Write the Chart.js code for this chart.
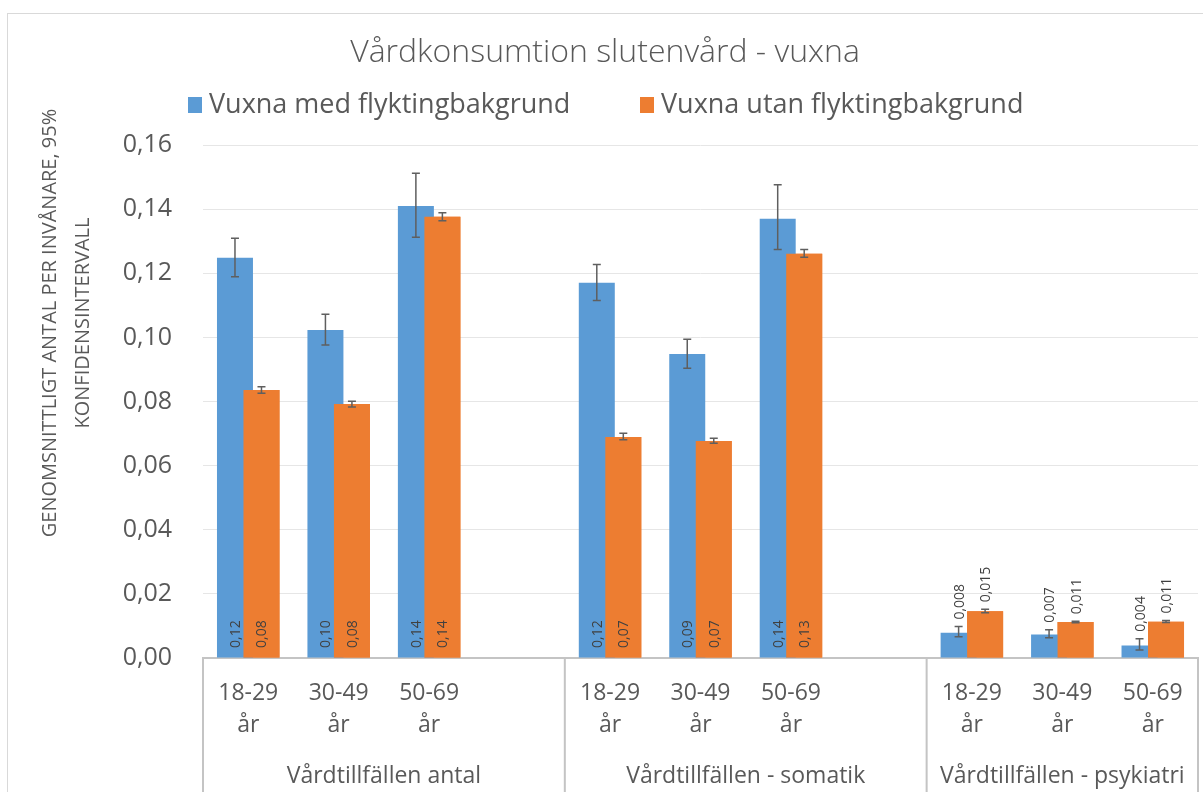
<!DOCTYPE html>
<html><head><meta charset="utf-8">
<style>html,body{margin:0;padding:0;background:#fff;overflow:hidden}</style>
<script src="https://cdn.jsdelivr.net/npm/chart.js@4.4.0/dist/chart.umd.min.js"></script>
</head><body><canvas id="c" width="1203" height="792"></canvas>
<script>
// ---------- data ----------
const chartTitle = 'Vårdkonsumtion slutenvård - vuxna';
const yAxisTitle = ['GENOMSNITTLIGT ANTAL PER INVÅNARE, 95%', 'KONFIDENSINTERVALL'];
const groupNames = ['Vårdtillfällen antal', 'Vårdtillfällen - somatik', 'Vårdtillfällen - psykiatri'];
const ageLabels = [['18-29', 'år'], ['30-49', 'år'], ['50-69', 'år']];
const seriesNames = ['Vuxna med flyktingbakgrund', 'Vuxna utan flyktingbakgrund'];
const groupDecimals = [2, 2, 3];
const yTicks = { min: 0, max: 0.16, step: 0.02 };

// values per group (antal, somatik, psykiatri) x age (18-29, 30-49, 50-69)
const withRefugee    = [0.1248, 0.1023, 0.1410,  0.1170, 0.0948, 0.1370,  0.0079, 0.0073, 0.0039];
const withRefugeeLo  = [0.1189, 0.0976, 0.1312,  0.1115, 0.0904, 0.1274,  0.0066, 0.0063, 0.0025];
const withRefugeeHi  = [0.1309, 0.1072, 0.1512,  0.1227, 0.0994, 0.1476,  0.0098, 0.0088, 0.0060];
const withoutRefugee   = [0.0836, 0.0792, 0.1376,  0.0689, 0.0677, 0.1261,  0.0146, 0.0112, 0.0113];
const withoutRefugeeLo = [0.0826, 0.0783, 0.1364,  0.0681, 0.0670, 0.1250,  0.0141, 0.0110, 0.0111];
const withoutRefugeeHi = [0.0846, 0.0801, 0.1389,  0.0701, 0.0685, 0.1274,  0.0152, 0.0115, 0.0117];

// ---------- build category slots (blank slot between groups) ----------
const categories = [], slotGroup = [], groupStart = [];
const s1 = [], s1lo = [], s1hi = [], s2 = [], s2lo = [], s2hi = [];
groupNames.forEach((g, gi) => {
  groupStart.push(categories.length);
  ageLabels.forEach((a, ai) => {
    const k = gi * ageLabels.length + ai;
    categories.push(a); slotGroup.push(gi);
    s1.push(withRefugee[k]); s1lo.push(withRefugeeLo[k]); s1hi.push(withRefugeeHi[k]);
    s2.push(withoutRefugee[k]); s2lo.push(withoutRefugeeLo[k]); s2hi.push(withoutRefugeeHi[k]);
  });
  if (gi < groupNames.length - 1) {
    categories.push(''); slotGroup.push(-1);
    [s1, s1lo, s1hi, s2, s2lo, s2hi].forEach(arr => arr.push(null));
  }
});

const FONT = "'Open Sans', 'Noto Sans', sans-serif";
const TXT = '#595959';
const BLUE = '#5B9BD5', ORANGE = '#ED7D31';

const fmt = (v, d) => v.toFixed(d).replace('.', ',');

const decor = {
  id: 'decor',
  beforeDraw(chart) {
    const ctx = chart.ctx;
    ctx.save();
    ctx.fillStyle = '#fff';
    ctx.fillRect(0, 0, chart.width, chart.height);
    ctx.strokeStyle = '#d9d9d9';
    ctx.lineWidth = 1;
    ctx.strokeRect(7.5, 13.5, chart.width + 20, chart.height + 20);
    ctx.restore();
  },
  afterDatasetsDraw(chart) {
    const ctx = chart.ctx;
    const y = chart.scales.y;
    // orange bars overlap the blue ones
    chart.getDatasetMeta(1).data.forEach(el => { if (el && !el.skip) el.draw(ctx); });
    ctx.save();
    // error bars
    chart.data.datasets.forEach((ds, di) => {
      const meta = chart.getDatasetMeta(di);
      meta.data.forEach((el, i) => {
        if (ds.data[i] == null) return;
        const yl = y.getPixelForValue(ds.errLow[i]);
        const yh = y.getPixelForValue(ds.errHigh[i]);
        ctx.strokeStyle = '#5f5f5f';
        ctx.lineWidth = 1.5;
        ctx.beginPath();
        ctx.moveTo(el.x, yl); ctx.lineTo(el.x, yh);
        ctx.moveTo(el.x - 4, yl); ctx.lineTo(el.x + 4, yl);
        ctx.moveTo(el.x - 4, yh); ctx.lineTo(el.x + 4, yh);
        ctx.stroke();
      });
    });
    // data labels
    ctx.fillStyle = '#404040';
    ctx.font = '14px ' + FONT;
    ctx.textBaseline = 'middle';
    ctx.textAlign = 'left';
    chart.data.datasets.forEach((ds, di) => {
      const meta = chart.getDatasetMeta(di);
      meta.data.forEach((el, i) => {
        const v = ds.data[i];
        if (v == null) return;
        const g = slotGroup[i];
        const txt = fmt(v, groupDecimals[g]);
        let yStart;
        if (groupDecimals[g] > 2) {
          yStart = y.getPixelForValue(ds.errHigh[i]) - 7;
        } else {
          yStart = y.getPixelForValue(0) - 10;
        }
        ctx.save();
        ctx.translate(el.x + 1, yStart);
        ctx.rotate(-Math.PI / 2);
        ctx.fillText(txt, 0, 0);
        ctx.restore();
      });
    });
    ctx.restore();
  },
  afterDraw(chart) {
    const ctx = chart.ctx;
    const x = chart.scales.x;
    const area = chart.chartArea;
    ctx.save();
    // title
    ctx.fillStyle = TXT;
    ctx.textAlign = 'center';
    ctx.textBaseline = 'alphabetic';
    ctx.font = '300 32px ' + FONT;
    ctx.fillText(chartTitle, 605, 62);
    // legend
    ctx.font = '27px ' + FONT;
    ctx.textAlign = 'left';
    const legendX = [188, 640];
    seriesNames.forEach((n, i) => {
      ctx.fillStyle = i === 0 ? BLUE : ORANGE;
      ctx.fillRect(legendX[i], 97, 14, 16);
      ctx.fillStyle = TXT;
      ctx.fillText(n, legendX[i] + 21, 113);
    });
    // y axis title
    ctx.save();
    ctx.translate(50, 323);
    ctx.rotate(-Math.PI / 2);
    ctx.font = '20px ' + FONT;
    ctx.textAlign = 'center';
    ctx.textBaseline = 'middle';
    ctx.fillText(yAxisTitle[0], 0, 0);
    ctx.fillText(yAxisTitle[1], 0, 33);
    ctx.restore();
    // group separators and labels
    const half = (x.getPixelForValue(1) - x.getPixelForValue(0)) / 2;
    const bounds = groupStart.map(s => x.getPixelForValue(s) - half);
    bounds.push(x.getPixelForValue(categories.length - 1) + half);
    ctx.strokeStyle = '#c4c4c4';
    ctx.lineWidth = 2;
    ctx.beginPath();
    bounds.forEach(b => { ctx.moveTo(b, area.bottom); ctx.lineTo(b, chart.height); });
    ctx.stroke();
    ctx.fillStyle = TXT;
    ctx.font = '23px ' + FONT;
    ctx.textAlign = 'center';
    ctx.textBaseline = 'alphabetic';
    groupNames.forEach((g, gi) => {
      ctx.fillText(g, (bounds[gi] + bounds[gi + 1]) / 2, 783);
    });
    ctx.restore();
  }
};

new Chart(document.getElementById('c'), {
  type: 'bar',
  data: {
    labels: categories,
    datasets: [
      { label: seriesNames[0], data: s1, errLow: s1lo, errHigh: s1hi, backgroundColor: BLUE },
      { label: seriesNames[1], data: s2, errLow: s2lo, errHigh: s2hi, backgroundColor: ORANGE }
    ]
  },
  options: {
    responsive: false,
    animation: false,
    layout: { padding: { top: 145, right: 5, left: 0, bottom: 0 } },
    datasets: { bar: { categoryPercentage: 0.586, barPercentage: 1.358 } },
    plugins: { legend: { display: false }, title: { display: false }, tooltip: { enabled: false } },
    scales: {
      x: {
        grid: { display: false, drawTicks: false },
        border: { display: true, color: '#c4c4c4', width: 2 },
        ticks: { color: TXT, font: { family: FONT, size: 23, lineHeight: 1.4 }, padding: 19, maxRotation: 0, autoSkip: false },
        afterFit: s => { s.height = 134; }
      },
      y: {
        min: yTicks.min, max: yTicks.max,
        grid: { color: '#e6e6e6', drawTicks: false },
        border: { display: false },
        ticks: { stepSize: yTicks.step, color: TXT, font: { family: FONT, size: 25 }, padding: 31, labelOffset: 0,
                 callback: v => fmt(v, 2) },
        afterFit: s => { s.width = 203; }
      }
    }
  },
  plugins: [decor]
});
</script>
</body></html>
